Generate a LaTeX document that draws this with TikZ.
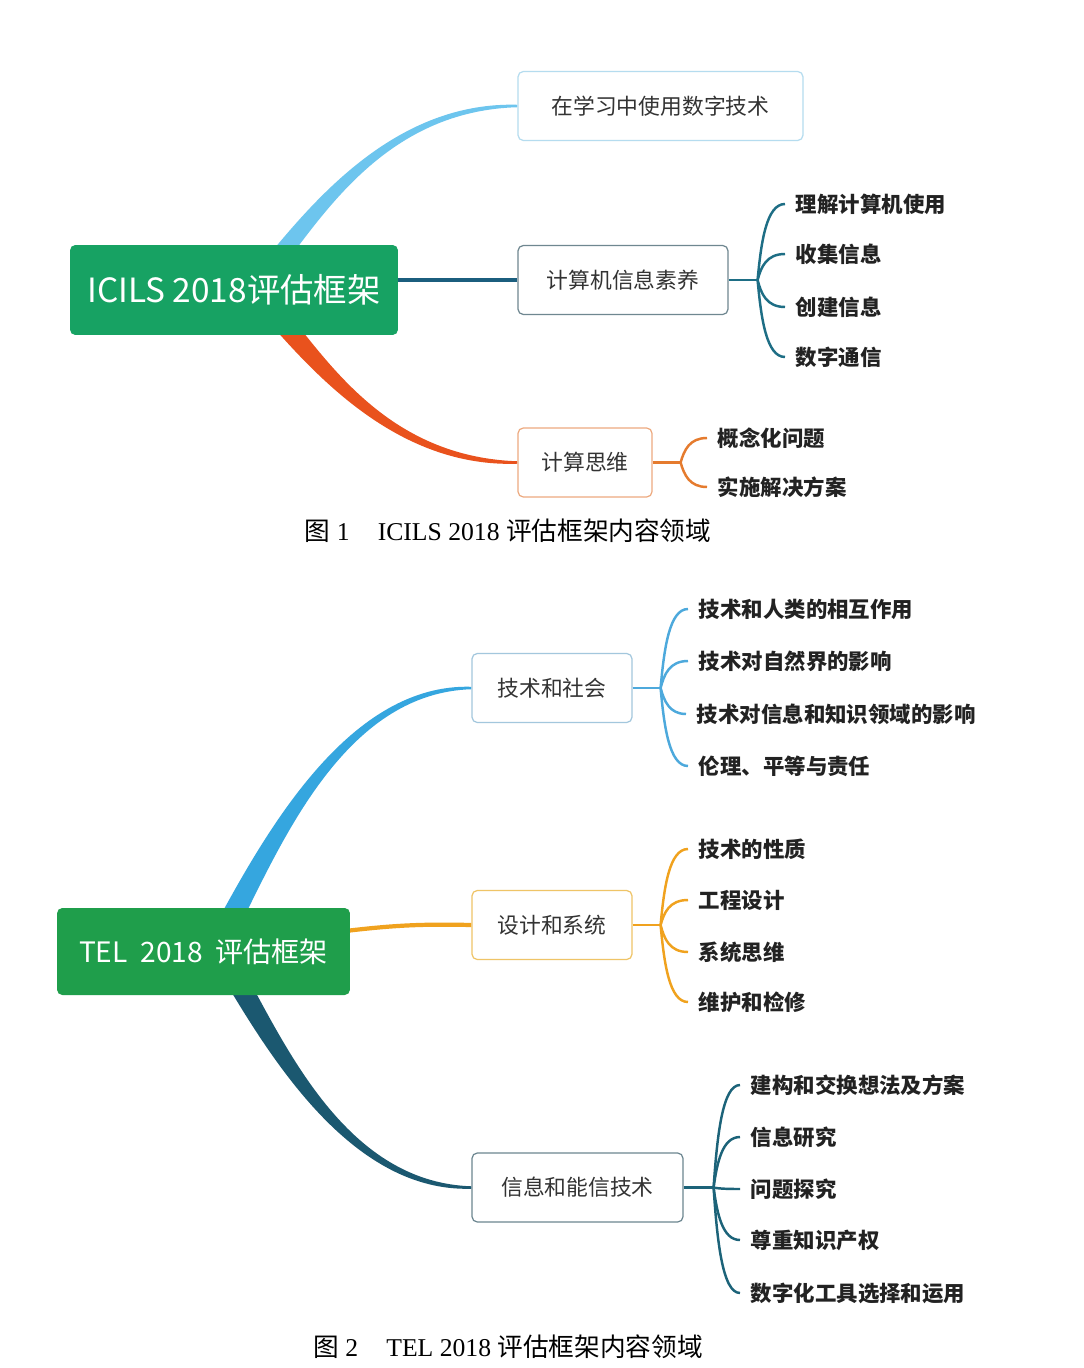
\documentclass[tikz,border=0pt]{standalone}
\usepackage{fontspec}
\setmainfont{Liberation Serif}
\newfontfamily\cjk{Noto Sans CJK SC}
\usepackage{tikz}
\usetikzlibrary{calc,backgrounds}
\usepackage{xcolor}
\definecolor{icilsGreen}{HTML}{17A263}
\definecolor{telGreen}{HTML}{1F9E4B}
\definecolor{skyBlue}{HTML}{6DC5EE}
\definecolor{skyLine}{HTML}{B5DCEF}
\definecolor{deepBlue}{HTML}{1B5E7E}
\definecolor{deepLine}{HTML}{6F8790}
\definecolor{deepTwig}{HTML}{1E6E85}
\definecolor{redOrange}{HTML}{E9521D}
\definecolor{redLine}{HTML}{EDAA80}
\definecolor{redTwig}{HTML}{E57B2E}
\definecolor{telBlue}{HTML}{35A6DF}
\definecolor{telBlueLine}{HTML}{A3C7DD}
\definecolor{telBlueTwig}{HTML}{4DA9DC}
\definecolor{telOrange}{HTML}{F0A21E}
\definecolor{telOrangeLine}{HTML}{EFC467}
\definecolor{telDeep}{HTML}{1B5870}
\definecolor{telDeepLine}{HTML}{6C8690}
\definecolor{telDeepTwig}{HTML}{1C6379}
\definecolor{boxText}{HTML}{333333}
\definecolor{leafText}{HTML}{222222}
% tapered main branch: colour, start, end, half width, +1 up / -1 down
\newcommand{\limb}[5]{%
  \fill[#1] let \p1=(#2), \p2=(#3), \n1={\x2-\x1}, \n2={\y2-\y1} in
    ({\x1-#4},\y1) .. controls ({\x1+0.2*\n1-0.8*#4},{\y1+0.4*\n2}) and ({\x1+0.5*\n1},{\y2+(#5)*0.4*#4}) .. ({\x2},{\y2+(#5)*0.7pt})
    -- ({\x2},{\y2-(#5)*0.7pt}) .. controls ({\x1+0.5*\n1},{\y2-(#5)*0.4*#4}) and ({\x1+0.2*\n1+0.8*#4},{\y1+0.4*\n2}) .. ({\x1+#4},\y1) -- cycle;}
% brace-like twig from junction to a leaf
\newcommand{\sprig}[3]{%
  \draw[twig=#1] let \p1=(#2), \p2=(#3.west) in
    (\p1) .. controls ({\x1+2pt},{0.5*\y1+0.5*\y2}) and ({\x1+5pt},\y2) .. (\p2);}

\begin{document}
\begin{tikzpicture}[x=0.02cm, y=-0.02cm,
  root/.style={rectangle, rounded corners=3pt, fill=#1, text=white},
  box/.style={rectangle, draw=#1, rounded corners=3pt, fill=white, line width=0.7pt,
              minimum height=1.38cm, text=boxText, font=\cjk\fontsize{12.4}{14}\selectfont},
  leaf/.style={anchor=west, inner xsep=6pt, text=leafText,
               font=\cjk\bfseries\fontsize{12.2}{14}\selectfont},
  twig/.style={draw=#1, line width=1.4pt},
  caption/.style={font=\fontsize{14.6}{16}\selectfont}
]
\useasboundingbox (0,0) rectangle (1084,1368);

% ---------- 图 1 ----------
\node[root=icilsGreen, minimum width=6.56cm, minimum height=1.8cm,
      font=\cjk\fontsize{19}{21}\selectfont] (ICILS) at (234,290) {ICILS 2018评估框架};
\node[box=skyLine, minimum width=5.7cm] (UseDigital) at (660.5,106) {在学习中使用数字技术};
\node[box=deepLine, minimum width=4.2cm] (CIL) at (623,280) {计算机信息素养};
\node[box=redLine, minimum width=2.68cm] (CT) at (585,462.5) {计算思维};

% 计算机信息素养的分支
\node[leaf] (cilA) at (785,204) {理解计算机使用};
\node[leaf] (cilB) at (785,254) {收集信息};
\node[leaf] (cilC) at (785,307) {创建信息};
\node[leaf] (cilD) at (785,357) {数字通信};
\draw[twig=deepTwig] (CIL.east) -- ++(29,0) coordinate (jCIL);
\foreach \lf in {cilA,cilB,cilC,cilD} {\sprig{deepTwig}{jCIL}{\lf}}

% 计算思维的分支
\node[leaf] (ctA) at (707,438) {概念化问题};
\node[leaf] (ctB) at (707,487) {实施解决方案};
\draw[twig=redTwig] (CT.east) -- ++(28,0) coordinate (jCT);
\foreach \lf in {ctA,ctB} {\sprig{redTwig}{jCT}{\lf}}

\node[caption] (cap1) at (508,531) {{\cjk 图}~1\hspace{1.1em}ICILS 2018 {\cjk 评估框架内容领域}};

% ---------- 图 2 ----------
\node[root=telGreen, minimum width=5.86cm, minimum height=1.74cm,
      font=\cjk\fontsize{16}{18}\selectfont] (TEL) at (203.5,951.5) {TEL\ \ 2018\ \ 评估框架};
\node[box=telBlueLine, minimum width=3.2cm] (TechSoc) at (552,688) {技术和社会};
\node[box=telOrangeLine, minimum width=3.2cm] (DesSys) at (552,925) {设计和系统};
\node[box=telDeepLine, minimum width=4.22cm] (ICT) at (577.5,1187.5) {信息和能信技术};

% 技术和社会
\node[leaf] (tsA) at (688,609) {技术和人类的相互作用};
\node[leaf] (tsB) at (688,661) {技术对自然界的影响};
\node[leaf] (tsC) at (686,714) {技术对信息和知识领域的影响};
\node[leaf] (tsD) at (688,766) {伦理、平等与责任};
\draw[twig=telBlueTwig] (TechSoc.east) -- ++(28,0) coordinate (jTS);
\foreach \lf in {tsA,tsB,tsC,tsD} {\sprig{telBlueTwig}{jTS}{\lf}}

% 设计和系统
\node[leaf] (dsA) at (688,849) {技术的性质};
\node[leaf] (dsB) at (688,900) {工程设计};
\node[leaf] (dsC) at (688,952) {系统思维};
\node[leaf] (dsD) at (688,1002) {维护和检修};
\draw[twig=telOrange] (DesSys.east) -- ++(28,0) coordinate (jDS);
\foreach \lf in {dsA,dsB,dsC,dsD} {\sprig{telOrange}{jDS}{\lf}}

% 信息和能信技术
\node[leaf] (ictA) at (740,1085) {建构和交换想法及方案};
\node[leaf] (ictB) at (740,1137) {信息研究};
\node[leaf] (ictC) at (740,1189) {问题探究};
\node[leaf] (ictD) at (740,1240) {尊重知识产权};
\node[leaf] (ictE) at (740,1293) {数字化工具选择和运用};
\draw[twig=telDeepTwig] (ICT.east) -- ++(30,0) coordinate (jICT);
\foreach \lf in {ictA,ictB,ictC,ictD,ictE} {\sprig{telDeepTwig}{jICT}{\lf}}

\node[caption] (cap2) at (508,1347) {{\cjk 图}~2\hspace{1.1em}TEL 2018 {\cjk 评估框架内容领域}};

% 主干（放在背景层）
\begin{scope}[on background layer]
  \fill[white] (0,0) rectangle (1084,1368);
  \limb{skyBlue}{$(ICILS.north)+(45,12)$}{UseDigital.west}{6.5pt}{1}
  \draw[deepBlue, line width=2.2pt] (ICILS.east |- CIL.west) -- (CIL.west);
  \limb{redOrange}{$(ICILS.south)+(49,-12)$}{CT.west}{7.5pt}{-1}
  \limb{telBlue}{$(TEL.north)+(27,12)$}{TechSoc.west}{7pt}{1}
  \draw[telOrange, line width=2.4pt] ($(TEL.east |- DesSys.west)+(-5,6)$) to[bend left=4] (DesSys.west);
  \limb{telDeep}{$(TEL.south)+(35,-12)$}{ICT.west}{7pt}{-1}
\end{scope}
\end{tikzpicture}
\end{document}
